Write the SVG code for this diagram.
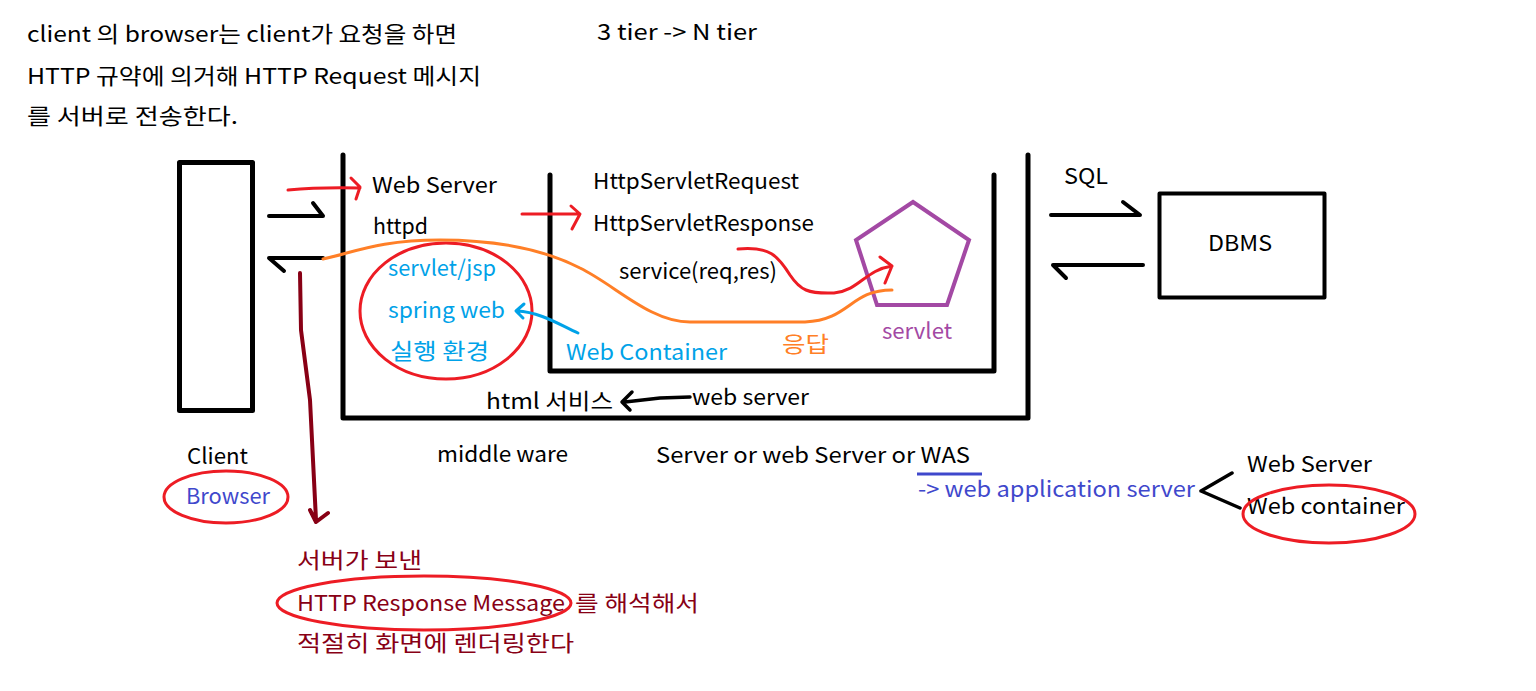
<svg xmlns="http://www.w3.org/2000/svg" width="1536" height="691" viewBox="0 0 1536 691">
<style>
text{font-family:"Noto Sans CJK KR","Noto Sans",sans-serif;font-size:22px;fill:#000}
.b{fill:#00a2e8}.o{fill:#ff7f27}.p{fill:#a349a4}.dr{fill:#880015}.in{fill:#3f48cc}
.k{fill:none;stroke:#000;stroke-linecap:round;stroke-linejoin:round}
.r{fill:none;stroke:#ed1c24;stroke-width:3;stroke-linecap:round;stroke-linejoin:round}
</style>
<rect width="1536" height="691" fill="#fff"/>
<g id="notes">
<text x="27" y="42" textLength="430" lengthAdjust="spacingAndGlyphs">client 의 browser는 client가 요청을 하면</text>
<text x="27" y="84" textLength="454" lengthAdjust="spacingAndGlyphs">HTTP 규약에 의거해 HTTP Request 메시지</text>
<text x="27" y="124" textLength="211" lengthAdjust="spacingAndGlyphs">를 서버로 전송한다.</text>
<text x="597" y="40" textLength="160" lengthAdjust="spacingAndGlyphs">3 tier -&gt; N tier</text>
</g>
<g id="client">
<rect class="k" x="179.5" y="162.5" width="73" height="248" stroke-width="5"/>
<text x="187" y="464" textLength="61" lengthAdjust="spacingAndGlyphs">Client</text>
<ellipse class="r" cx="226" cy="497" rx="62" ry="26"/>
<text class="in" x="186" y="504" textLength="84" lengthAdjust="spacingAndGlyphs">Browser</text>
</g>
<g id="middleware">
<path class="k" d="M343 155 V418 H1028 V155" stroke-width="5" stroke-linecap="butt"/>
<text x="372" y="193" textLength="125" lengthAdjust="spacingAndGlyphs">Web Server</text>
<text x="373" y="234" textLength="55" lengthAdjust="spacingAndGlyphs">httpd</text>
<ellipse class="r" cx="446" cy="311" rx="86" ry="68"/>
<text class="b" x="388" y="276" textLength="108" lengthAdjust="spacingAndGlyphs">servlet/jsp</text>
<text class="b" x="388" y="318" textLength="117" lengthAdjust="spacingAndGlyphs">spring web</text>
<text class="b" x="390" y="359" textLength="99" lengthAdjust="spacingAndGlyphs">실행 환경</text>
<text x="486" y="409" textLength="127" lengthAdjust="spacingAndGlyphs">html 서비스</text>
<text x="692" y="405" textLength="117" lengthAdjust="spacingAndGlyphs">web server</text>
<text x="437" y="462" textLength="131" lengthAdjust="spacingAndGlyphs">middle ware</text>
</g>
<g id="container">
<path class="k" d="M550 175 V371 H994 V175" stroke-width="5" stroke-linecap="butt"/>
<text x="593" y="189" textLength="206" lengthAdjust="spacingAndGlyphs">HttpServletRequest</text>
<text x="593" y="231" textLength="221" lengthAdjust="spacingAndGlyphs">HttpServletResponse</text>
<text x="619" y="279" textLength="158" lengthAdjust="spacingAndGlyphs">service(req,res)</text>
<text class="b" x="566" y="360" textLength="161" lengthAdjust="spacingAndGlyphs">Web Container</text>
<text class="o" x="782" y="352" textLength="47" lengthAdjust="spacingAndGlyphs">응답</text>
</g>
<g id="servlet">
<polygon points="913,202 969,240 947,305 877,305 856,240" fill="none" stroke="#a349a4" stroke-width="4"/>
<text class="p" x="882" y="339" textLength="70" lengthAdjust="spacingAndGlyphs">servlet</text>
</g>
<g id="dbms">
<rect class="k" x="1159.5" y="193.5" width="165" height="104" stroke-width="4"/>
<text x="1208" y="251" textLength="64" lengthAdjust="spacingAndGlyphs">DBMS</text>
<text x="1064" y="184" textLength="44" lengthAdjust="spacingAndGlyphs">SQL</text>
</g>
<g id="was">
<text x="656" y="463" textLength="314" lengthAdjust="spacingAndGlyphs">Server or web Server or WAS</text>
<line x1="917" y1="474" x2="982" y2="474" stroke="#3f48cc" stroke-width="3"/>
<text class="in" x="918" y="497" textLength="277" lengthAdjust="spacingAndGlyphs">-&gt; web application server</text>
<text x="1247" y="472" textLength="125" lengthAdjust="spacingAndGlyphs">Web Server</text>
<text x="1247" y="514" textLength="158" lengthAdjust="spacingAndGlyphs">Web container</text>
<ellipse class="r" cx="1329" cy="514" rx="86" ry="29"/>
</g>
<g id="render-note">
<text class="dr" x="297" y="568" textLength="125" lengthAdjust="spacingAndGlyphs">서버가 보낸</text>
<ellipse class="r" cx="424" cy="603" rx="147" ry="27"/>
<text class="dr" x="297" y="611" textLength="268" lengthAdjust="spacingAndGlyphs">HTTP Response Message</text>
<text class="dr" x="575" y="611" textLength="124" lengthAdjust="spacingAndGlyphs">를 해석해서</text>
<text class="dr" x="297" y="651" textLength="277" lengthAdjust="spacingAndGlyphs">적절히 화면에 렌더링한다</text>
</g>
<g id="connectors">
<path class="k" stroke-width="4" d="M269 216 H323 L313 203"/>
<path class="k" stroke-width="4" d="M323 258 H269 L284 271"/>
<path class="k" stroke-width="4" d="M1051 215 H1140 L1123 202"/>
<path class="k" stroke-width="4" d="M1143 265 H1053 L1066 278"/>
<path class="r" d="M288 190 Q320 187 360 188 M351 178 L360 187 L356 199"/>
<path class="r" d="M522 214 H579 M571 206 L580 214 L572 229"/>
<path class="r" d="M738 249 C770 246 778 256 790 275 C800 290 808 294 834 293 C860 290 865 270 892 266 M880 257 L892 266 L885 283"/>
<path fill="none" stroke="#ff7f27" stroke-width="3" stroke-linecap="round" d="M323 259 C355 252 380 240 440 240 C500 240 545 250 580 268 C615 285 650 322 690 322 H805 C850 320 850 290 892 290"/>
<path fill="none" stroke="#00a2e8" stroke-width="3" stroke-linecap="round" stroke-linejoin="round" d="M578 333 C560 325 540 312 517 311 M524 304 L516 311 L523 318"/>
<path class="k" stroke-width="3.5" d="M690 397 L660 398 L625 402 M632 392 L622 402 L630 410"/>
<path fill="none" stroke="#880015" stroke-width="4" stroke-linecap="round" stroke-linejoin="round" d="M300 273 L301 330 L310 400 L316 520 M310 510 L316 522 L328 513"/>
<path class="k" stroke-width="3.5" d="M1232 473 L1201 491 L1240 508"/>
</g>
</svg>
